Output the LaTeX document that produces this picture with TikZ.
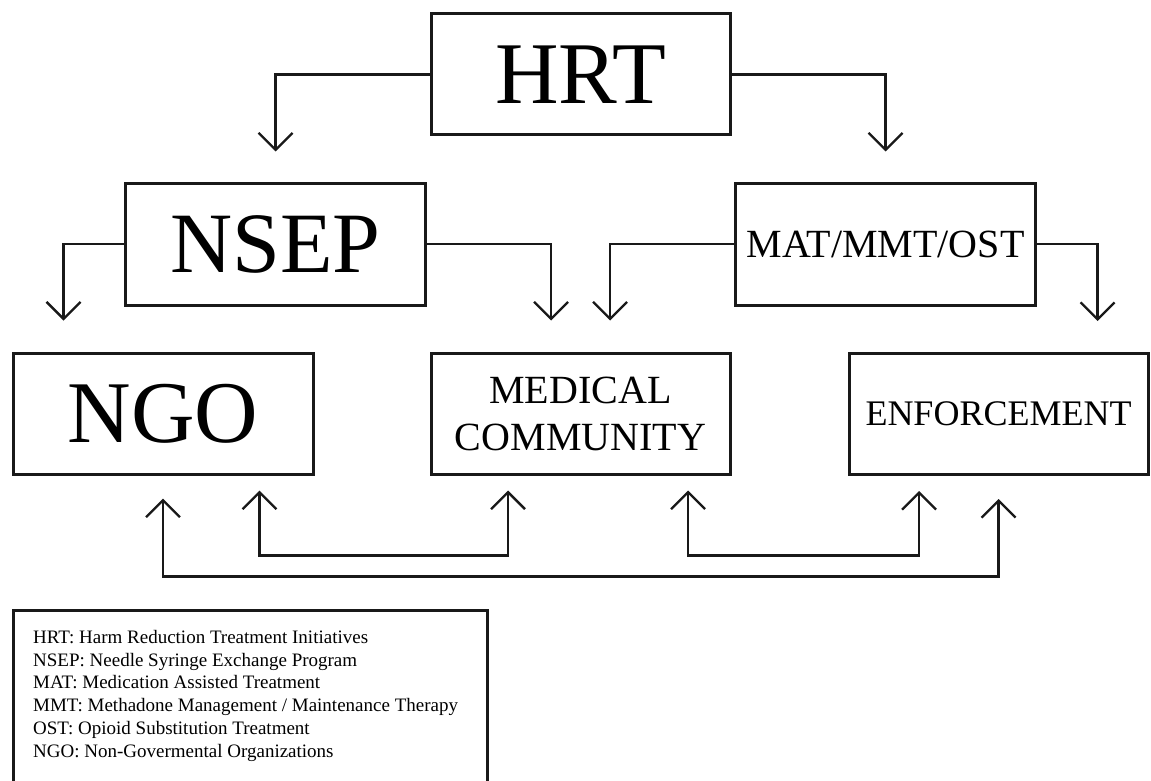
\documentclass[tikz,border=0pt]{standalone}
\usepackage{fontspec}
\setmainfont{Liberation Serif}
\usetikzlibrary{arrows.meta}
\begin{document}
\begin{tikzpicture}[x=1pt,y=-1pt,
  box/.style={draw=black!90, line width=3pt, rectangle, inner sep=0pt, align=center,
              minimum width=300pt, minimum height=121pt},
  conn/.style={line width=2.3pt, draw=black!90, -{Straight Barb[length=17pt,width=34pt]}},
  biconn/.style={line width=2.3pt, draw=black!90,
                 {Straight Barb[length=17pt,width=34pt]}-{Straight Barb[length=17pt,width=34pt]}},
  bigtxt/.style={font=\fontsize{88}{88}\selectfont},
  midtxt/.style={font=\fontsize{40}{47}\selectfont},
]
\useasboundingbox (0,0) rectangle (1151,781);
\fill[white] (0,0) rectangle (1151,781);

% boxes
\node[box, bigtxt, minimum width=299pt] (HRT) at (580.5,74.5) {HRT};
\node[box, font=\fontsize{86}{86}\selectfont, minimum height=122pt] (NSEP) at (275.5,244) {NSEP};
\node[box, midtxt, minimum height=122pt] (MAT) at (885.5,244) {MAT/MMT/OST};
\node[box, bigtxt] (NGO) at (163,413.5) {NGO};
\node[box, midtxt, minimum width=299pt] (MED) at (580.5,413.5) {MEDICAL\\COMMUNITY};
\node[box, font=\fontsize{36}{36}\selectfont, minimum width=299pt] (ENF) at (998.5,414) {ENFORCEMENT};

% top connectors
\draw[conn, shorten >=30pt] (HRT.west) -| (NSEP.north);
\draw[conn, shorten >=30pt] (HRT.east) -| (MAT.north);
\draw[conn, shorten >=31pt] (NSEP.west) -| ([xshift=52pt]NGO.north west);
\draw[conn, shorten >=31pt] (NSEP.east) -| ([xshift=-29.5pt]MED.north);
\draw[conn, shorten >=31pt] (MAT.west) -| ([xshift=29.5pt]MED.north);
\draw[conn, shorten >=31pt] (MAT.east) -| ([xshift=-52pt]ENF.north east);

% bottom connectors
\draw[biconn, shorten <=15pt, shorten >=15pt]
  ([xshift=-55pt]NGO.south east) -- ++(0,80) -| ([xshift=-72.5pt]MED.south);
\draw[biconn, shorten <=15pt, shorten >=15pt]
  ([xshift=107.5pt]MED.south) -- ++(0,80) -| ([xshift=-79.5pt]ENF.south);
\draw[biconn, shorten <=23pt, shorten >=23pt]
  (NGO.south) -- ++(0,101) -| (ENF.south);

% legend
\node[anchor=north west, inner sep=0pt, align=left,
      font=\fontsize{19}{22.8}\selectfont] (legend) at (33,630)
  {HRT: Harm Reduction Treatment Initiatives\\
   NSEP: Needle Syringe Exchange Program\\
   MAT: Medication Assisted Treatment\\
   MMT: Methadone Management / Maintenance Therapy\\
   OST: Opioid Substitution Treatment\\
   NGO: Non-Govermental Organizations};
\draw[line width=3pt, draw=black!90] (13,795) |- (487,610) -- (487,795);
\end{tikzpicture}
\end{document}
